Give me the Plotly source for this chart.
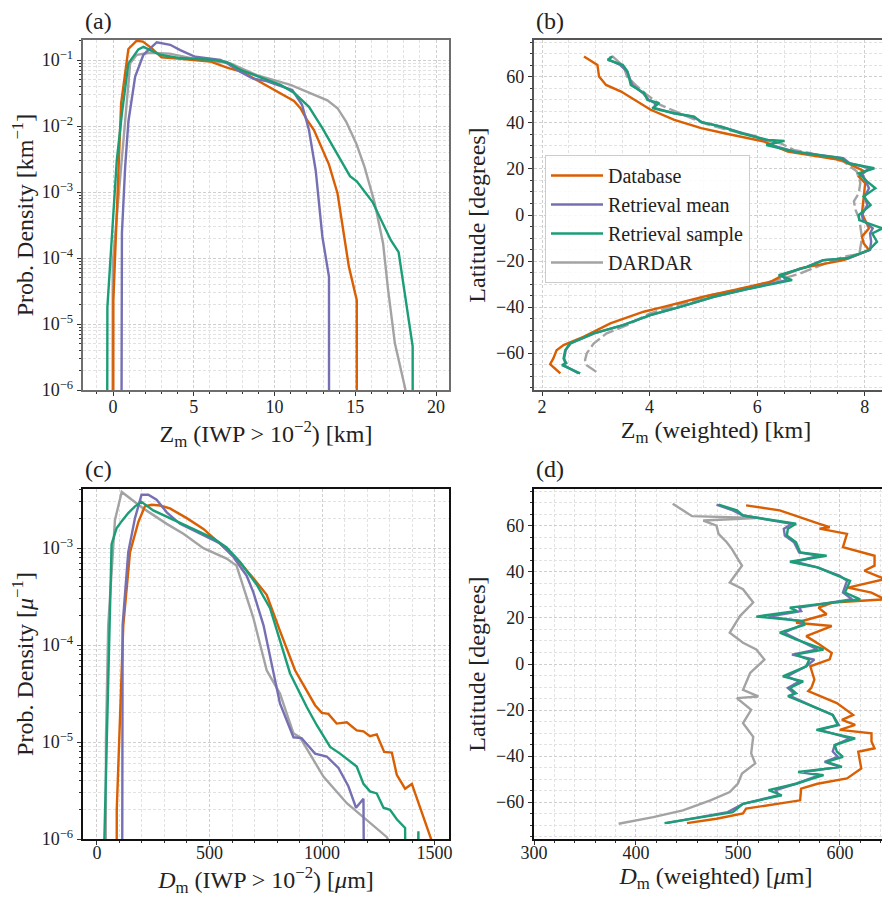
import plotly.graph_objects as go

# ---------------- data (a): PDF of Zm (IWP > 1e-2) ----------------
a_db_x = [0.0, 0.02, 0.5, 0.95, 1.45, 1.85, 2.4, 3.0, 4.0, 5.0, 6.0, 7.1, 8.0, 9.0, 10.0, 11.2, 11.6, 12.0, 12.44, 13.0, 13.37, 13.9, 14.3, 14.6, 15.09, 15.1]
a_db_y = [0, 2.3e-5, 0.022, 0.147, 0.195, 0.19, 0.15, 0.11, 0.105, 0.1, 0.095, 0.076, 0.066, 0.048, 0.035, 0.024, 0.0186, 0.0125, 0.0087, 0.0042, 0.0026, 9.5e-4, 2.2e-4, 7.4e-5, 2.3e-5, 0]

a_rm_x = [0.47, 0.5, 0.55, 0.75, 0.95, 1.37, 1.88, 2.71, 3.54, 4.16, 5.09, 6.65, 7.06, 7.89, 8.7, 9.5, 10.4, 11.1, 11.7, 12.13, 12.55, 12.96, 13.37, 13.38]
a_rm_y = [0, 1e-5, 2.4e-4, 2.4e-3, 0.0117, 0.056, 0.12, 0.186, 0.17, 0.141, 0.112, 0.1, 0.089, 0.066, 0.052, 0.048, 0.04, 0.035, 0.021, 0.0087, 0.0021, 2.1e-4, 5.2e-5, 0]

a_rs_x = [-0.4, -0.35, 0.23, 0.54, 0.95, 1.57, 1.88, 2.92, 4.16, 6.2, 7.06, 7.89, 9.55, 10.37, 11.2, 12.13, 12.96, 13.85, 14.2, 14.67, 15.09, 16.06, 17.2, 17.68, 18.55, 18.56]
a_rs_y = [0, 1.8e-5, 3.0e-3, 0.0148, 0.089, 0.145, 0.158, 0.12, 0.107, 0.1, 0.093, 0.071, 0.05, 0.042, 0.032, 0.0195, 0.0093, 0.0039, 0.0029, 0.00174, 0.00145, 7.1e-4, 1.86e-4, 1.23e-4, 4.6e-6, 0]

a_dd_x = [-0.05, -0.02, 1.06, 1.47, 2.3, 3.5, 5.0, 7.27, 8.9, 10.99, 12.02, 13.27, 13.9, 14.43, 15.05, 15.57, 16.2, 16.72, 17.03, 17.45, 18.07, 18.4]
a_dd_y = [0, 8.3e-5, 0.089, 0.12, 0.129, 0.125, 0.105, 0.089, 0.059, 0.042, 0.033, 0.0245, 0.0186, 0.0117, 0.0055, 0.0024, 6.8e-4, 1.66e-4, 3.3e-5, 5.1e-6, 1.1e-6, 4e-7]

# ---------------- data (b): Zm (weighted) vs latitude ----------------
b_db_lat = [68.8, 65.2, 60.1, 56.5, 53.6, 50.0, 45.7, 41.3, 37.7, 35.5, 31.9, 27.5, 23.9, 18.8, 16.7, 13.8, 6.5, 0.7, -5.8, -9.4, -12.3, -15.2, -19.6, -23.2, -26.8, -29.0, -32.6, -35.5, -39.9, -42.0, -47.1, -52.9, -56.5, -58.7, -62.3, -64.8, -68.8]
b_db_zm = [2.78, 3.03, 3.06, 3.19, 3.47, 3.71, 4.02, 4.46, 4.96, 5.39, 6.13, 6.57, 7.56, 8.01, 7.89, 8.01, 7.98, 7.95, 8.08, 7.95, 7.98, 8.08, 7.61, 6.80, 6.43, 6.25, 5.56, 5.00, 4.26, 3.89, 3.27, 2.77, 2.40, 2.27, 2.21, 2.15, 2.34]

b_rs_lat = [68.8, 67.4, 65.2, 62.3, 56.5, 52.9, 50.0, 48.6, 46.4, 44.2, 42.7, 40.3, 38.4, 35.5, 32.6, 32.2, 30.4, 27.5, 24.7, 22.5, 20.3, 18.1, 14.5, 11.6, 8.0, 4.3, 0.0, -2.2, -5.8, -8.0, -11.6, -15.2, -18.8, -19.6, -22.5, -26.1, -28.3, -31.9, -35.5, -39.9, -43.5, -47.8, -51.4, -55.8, -58.7, -62.3, -64.3, -65.2, -68.8]
b_rs_zm = [3.31, 3.22, 3.50, 3.59, 3.65, 3.90, 3.96, 4.18, 4.05, 4.46, 4.83, 4.96, 5.33, 5.70, 6.20, 6.51, 6.17, 6.69, 7.56, 7.69, 8.18, 7.89, 8.05, 8.20, 7.98, 8.11, 7.89, 7.90, 8.33, 8.14, 8.23, 8.08, 7.67, 7.24, 6.93, 6.40, 6.65, 5.87, 5.19, 4.57, 4.01, 3.51, 2.96, 2.52, 2.43, 2.40, 2.45, 2.37, 2.71]
b_rm_zm = [3.28, 3.25, 3.45, 3.58, 3.68, 3.88, 3.98, 4.10, 4.10, 4.45, 4.80, 4.98, 5.33, 5.72, 6.15, 6.35, 6.25, 6.70, 7.60, 7.72, 8.10, 7.95, 8.02, 8.08, 8.00, 8.05, 7.95, 7.97, 8.15, 8.10, 8.12, 8.10, 7.70, 7.22, 6.92, 6.45, 6.55, 5.90, 5.20, 4.57, 4.02, 3.50, 2.97, 2.53, 2.44, 2.41, 2.43, 2.40, 2.68]

b_dd_lat = [69.1, 64.5, 60.1, 55.8, 52.2, 47.8, 43.5, 39.9, 37.0, 34.1, 33.0, 31.0, 28.3, 26.8, 23.2, 19.0, 14.0, 9.4, 6.0, 2.2, -1.8, -10.0, -17.0, -18.1, -22.5, -25.4, -27.5, -31.2, -34.8, -39.1, -42.7, -47.8, -51.4, -55.8, -60.1, -63.0, -65.2, -68.8]
b_dd_zm = [3.30, 3.52, 3.58, 3.77, 3.95, 4.20, 4.63, 5.00, 5.44, 6.00, 6.05, 6.45, 6.68, 6.99, 7.61, 7.85, 7.92, 7.89, 7.80, 7.83, 7.90, 7.95, 7.90, 7.61, 7.11, 6.80, 6.49, 5.87, 5.13, 4.51, 4.01, 3.58, 3.20, 2.96, 2.83, 2.80, 2.83, 3.05]

# ---------------- data (c): PDF of Dm (IWP > 1e-2) ----------------
c_db_x = [85, 88, 117, 147, 184, 213, 243, 280, 324, 399, 473, 547, 620, 695, 754, 813, 880, 969, 999, 1028, 1065, 1110, 1154, 1184, 1213, 1243, 1276, 1310, 1332, 1369, 1399, 1483, 1520]
c_db_y = [0, 2e-6, 1.6e-4, 9.1e-4, 1.86e-3, 2.7e-3, 2.8e-3, 2.75e-3, 2.57e-3, 2.04e-3, 1.58e-3, 1.12e-3, 7.8e-4, 4.9e-4, 3.3e-4, 1.4e-4, 5.5e-5, 2.4e-5, 2.0e-5, 1.95e-5, 1.55e-5, 1.6e-5, 1.32e-5, 1.29e-5, 1.15e-5, 1.2e-5, 7.9e-6, 7.8e-6, 4.6e-6, 3.3e-6, 3.7e-6, 1.02e-6, 6e-7]

c_rm_x = [108, 112, 114, 139, 169, 198, 228, 265, 310, 369, 458, 547, 606, 665, 695, 740, 813, 873, 909, 969, 1021, 1073, 1117, 1151, 1184, 1200]
c_rm_y = [0, 3e-6, 1.6e-4, 9.1e-4, 2.04e-3, 3.55e-3, 3.55e-3, 3.16e-3, 2.34e-3, 1.78e-3, 1.41e-3, 1.12e-3, 8.1e-4, 5.2e-4, 3.5e-4, 1.6e-4, 2.5e-5, 1.12e-5, 1.1e-5, 7.6e-6, 7.1e-6, 5.4e-6, 3.5e-6, 2.1e-6, 2.6e-6, 0]

c_rs_x = [30, 33, 65, 87, 110, 139, 169, 198, 250, 324, 413, 517, 576, 636, 710, 769, 858, 932, 976, 1036, 1080, 1117, 1154, 1184, 1213, 1243, 1273, 1302, 1332, 1369, 1385, 1428, 1445]
c_rs_y = [0, 1e-6, 1.1e-3, 1.6e-3, 1.9e-3, 2.3e-3, 2.7e-3, 3.0e-3, 2.45e-3, 2.04e-3, 1.66e-3, 1.26e-3, 1.02e-3, 7.2e-4, 4.2e-4, 2.4e-4, 5.1e-5, 2.3e-5, 1.5e-5, 8.9e-6, 7.6e-6, 6.5e-6, 5.6e-6, 3.7e-6, 3.1e-6, 2.95e-6, 2.1e-6, 2.0e-6, 1.6e-6, 1.3e-6, 0, 1.2e-6, 0]

c_dd_x = [36, 40, 50, 80, 110, 206, 310, 384, 473, 576, 620, 636, 695, 754, 813, 873, 902, 1006, 1110, 1287, 1350]
c_dd_y = [0, 1.1e-5, 1.6e-4, 1.95e-3, 3.8e-3, 2.57e-3, 1.78e-3, 1.41e-3, 1.0e-3, 7.8e-4, 6.6e-4, 5.0e-4, 1.9e-4, 5.5e-5, 3.16e-5, 1.23e-5, 1.12e-5, 4.4e-6, 2.34e-6, 1.05e-6, 6e-7]

# ---------------- data (d): Dm (weighted) vs latitude ----------------
d_dd_dm = [436, 446, 455, 518, 466, 479, 481, 489, 494, 499, 504, 492, 505, 515, 502, 492, 505, 518, 526, 512, 505, 520, 499, 513, 505, 515, 513, 517, 504, 500, 492, 473, 446, 417, 383]
d_dd_lat = [69.6, 66.7, 64.2, 63.4, 62.3, 60.1, 56.5, 52.9, 50.0, 46.3, 42.7, 35.4, 32.5, 26.7, 20.8, 13.6, 9.2, 6.3, 1.9, -3.9, -11.2, -14.1, -14.8, -19.9, -25.7, -31.6, -38.8, -43.2, -47.6, -51.9, -55.6, -59.2, -63.6, -66.5, -69.4]

d_db_dm = [508, 541, 580, 590, 580, 607, 603, 634, 634, 624, 644, 608, 631, 644, 593, 579, 587, 557, 592, 567, 580, 592, 590, 571, 573, 575, 572, 569, 597, 613, 602, 615, 600, 631, 631, 634, 618, 621, 607, 578, 562, 561, 508, 505, 479, 450]
d_db_lat = [68.9, 66.7, 60.9, 59.4, 58.8, 56.5, 50.7, 47.0, 42.7, 40.5, 36.9, 33.2, 31.0, 28.1, 26.7, 24.5, 21.6, 17.9, 16.5, 12.1, 8.5, 4.8, 2.0, -1.0, -3.9, -6.8, -10.4, -11.8, -17.0, -22.1, -24.3, -26.4, -28.6, -30.1, -33.7, -36.6, -38.1, -45.4, -49.7, -52.0, -54.1, -59.2, -62.8, -64.9, -67.2, -69.1]

d_rs_lat = [69.2, 66.7, 64.5, 60.9, 58.7, 55.8, 52.9, 48.5, 47.0, 44.4, 42.0, 38.3, 36.1, 31.0, 28.1, 24.5, 23.0, 20.6, 18.6, 17.0, 13.6, 10.7, 6.3, 4.1, 1.9, -1.0, -5.4, -7.6, -10.4, -12.7, -14.0, -18.5, -22.1, -26.5, -28.6, -32.3, -35.2, -38.0, -40.3, -42.5, -44.7, -46.9, -48.3, -52.0, -54.8, -57.0, -60.7, -64.3, -69.1]
d_rs_dm = [481, 499, 505, 557, 549, 548, 557, 561, 587, 551, 578, 598, 610, 605, 620, 551, 558, 518, 564, 565, 541, 557, 584, 556, 570, 567, 544, 564, 551, 557, 549, 574, 593, 598, 577, 615, 595, 597, 603, 587, 602, 559, 584, 557, 530, 543, 505, 495, 428]
d_rm_dm = [479, 495, 505, 553, 545, 546, 555, 560, 580, 556, 578, 600, 607, 603, 612, 560, 562, 530, 562, 563, 545, 558, 578, 553, 575, 567, 548, 560, 549, 555, 552, 574, 593, 599, 580, 610, 595, 593, 598, 585, 600, 565, 580, 557, 537, 540, 505, 490, 430]

a_yticks = [1e-6, 1e-5, 1e-4, 1e-3, 1e-2, 1e-1]
a_yticktext = ["10<sup>−6</sup>", "10<sup>−5</sup>", "10<sup>−4</sup>", "10<sup>−3</sup>", "10<sup>−2</sup>", "10<sup>−1</sup>"]
c_yticks = [1e-6, 1e-5, 1e-4, 1e-3]
c_yticktext = ["10<sup>−6</sup>", "10<sup>−5</sup>", "10<sup>−4</sup>", "10<sup>−3</sup>"]

names = ["Database", "Retrieval mean", "Retrieval sample", "DARDAR"]

# ---------------- styling ----------------
C_DB, C_RM, C_RS, C_DD = "#d95f02", "#7570b3", "#1b9e77", "#a3a3a3"
LW = 2.4
FONT = "Liberation Serif"
W, H = 890, 898
OFF = 8  # page body margin offset (px)


def fx(p):
    return (p - OFF) / W


def fy(p):
    return 1 - (p - OFF) / H


def pos(vals):
    return [v if v > 0 else 1e-12 for v in vals]


fig = go.Figure()


def add(x, y, color, xa, ya, dash="solid"):
    fig.add_trace(go.Scatter(x=x, y=y, mode="lines", line=dict(color=color, width=LW, dash=dash),
                             xaxis=xa, yaxis=ya, showlegend=False, hoverinfo="skip"))


# (a)
add(a_dd_x, pos(a_dd_y), C_DD, "x", "y")
add(a_db_x, pos(a_db_y), C_DB, "x", "y")
add(a_rm_x, pos(a_rm_y), C_RM, "x", "y")
add(a_rs_x, pos(a_rs_y), C_RS, "x", "y")
# (b)
add(b_dd_zm, b_dd_lat, C_DD, "x2", "y2", dash="12px,4px")
add(b_db_zm, b_db_lat, C_DB, "x2", "y2")
add(b_rm_zm, b_rs_lat, C_RM, "x2", "y2")
add(b_rs_zm, b_rs_lat, C_RS, "x2", "y2")
# (c)
add(c_dd_x, pos(c_dd_y), C_DD, "x3", "y3")
add(c_db_x, pos(c_db_y), C_DB, "x3", "y3")
add(c_rm_x, pos(c_rm_y), C_RM, "x3", "y3")
add(c_rs_x, pos(c_rs_y), C_RS, "x3", "y3")
# (d)
add(d_dd_dm, d_dd_lat, C_DD, "x4", "y4")
add(d_db_dm, d_db_lat, C_DB, "x4", "y4")
add(d_rm_dm, d_rs_lat, C_RM, "x4", "y4")
add(d_rs_dm, d_rs_lat, C_RS, "x4", "y4")

# legend entries (solid lines)
for n, c in zip(names, [C_DB, C_RM, C_RS, C_DD]):
    fig.add_trace(go.Scatter(x=[None], y=[None], mode="lines", name=n, line=dict(color=c, width=LW),
                             xaxis="x2", yaxis="y2", showlegend=True))

GRID = "#cfcfcf"
MGRID = "#e2e2e2"
GDASH = "3px,2px"
TICKF = dict(family=FONT, size=18, color="#222")
TITLEF = dict(family=FONT, size=24, color="#222")


def lin_axis(domain, anchor, rng, dtick, mdtick, title, line_color="#555", mirror=True, standoff=0, lso=-5):
    return dict(domain=domain, anchor=anchor, range=rng, dtick=dtick, tick0=0, automargin=False,
                showgrid=True, gridcolor=GRID, griddash=GDASH, gridwidth=1,
                minor=dict(dtick=mdtick, tick0=0, showgrid=True, gridcolor=MGRID, griddash=GDASH,
                           gridwidth=0.8, ticks="outside", ticklen=2.5, tickcolor="#333"),
                ticks="outside", ticklen=4.5, tickcolor="#333", tickfont=TICKF, ticklabelstandoff=lso,
                showline=True, linecolor=line_color, linewidth=1.5, mirror=mirror,
                zeroline=False, title=dict(text=title, font=TITLEF, standoff=standoff))


def log_axis(domain, anchor, rng, tv, tt, title, line_color="#555", standoff=4):
    lo, hi = int(rng[0]) - 1, int(rng[1]) + 1
    mv = [k * 10.0 ** e for e in range(lo, hi + 1) for k in range(2, 10)]
    return dict(domain=domain, anchor=anchor, type="log", range=rng, tickmode="array", automargin=False,
                tickvals=tv, ticktext=tt, showgrid=True, gridcolor=GRID, griddash=GDASH, gridwidth=1,
                minor=dict(tickmode="array", tickvals=mv, showgrid=True, gridcolor=MGRID, griddash=GDASH,
                           gridwidth=0.8, ticks="outside", ticklen=2.5, tickcolor="#333"),
                ticks="outside", ticklen=4.5, tickcolor="#333", tickfont=TICKF,
                showline=True, linecolor=line_color, linewidth=1.5, mirror=True,
                zeroline=False, title=dict(text=title, font=TITLEF, standoff=standoff))


xL = [fx(83), fx(449)]
xR = [fx(534), min(1.0, fx(898))]
yT = [fy(390), fy(40)]
yB = [fy(839), fy(489)]

fig.update_layout(
    width=W, height=H, margin=dict(l=0, r=0, t=0, b=0, autoexpand=False),
    paper_bgcolor="white", plot_bgcolor="white",
    font=dict(family=FONT, color="#222"),
    xaxis=lin_axis(xL, "y", [-1.86, 20.8], 5, 1, "Z<sub>m</sub> (IWP > 10<sup>−2</sup>) [km]", line_color="#6e6e6e"),
    yaxis=log_axis(yT, "x", [-6, -0.697], a_yticks, a_yticktext, "Prob. Density [km<sup>−1</sup>]", line_color="#6e6e6e"),
    xaxis2=lin_axis(xR, "y2", [1.85, 8.62], 2, 0.5, "Z<sub>m</sub> (weighted) [km]"),
    yaxis2=lin_axis(yT, "x2", [-76, 76], 20, 5, "Latitude [degrees]", mirror=False, standoff=4, lso=0),
    xaxis3=lin_axis(xL, "y3", [-62, 1564], 500, 100, "<i>D</i><sub>m</sub> (IWP > 10<sup>−2</sup>) [<i>μ</i>m]", line_color="#111", lso=-8),
    yaxis3=log_axis(yB, "x3", [-6, -2.39], c_yticks, c_yticktext, "Prob. Density [<i>μ</i><sup>−1</sup>]", line_color="#111"),
    xaxis4=lin_axis(xR, "y4", [300, 657], 100, 20, "<i>D</i><sub>m</sub> (weighted) [<i>μ</i>m]", line_color="#111", lso=-8),
    yaxis4=lin_axis(yB, "x4", [-76, 76], 20, 5, "Latitude [degrees]", line_color="#111", mirror=False, standoff=4, lso=0),
    legend=dict(x=fx(545), y=fy(155), xanchor="left", yanchor="top",
                bgcolor="rgba(255,255,255,0.85)", bordercolor="#cccccc", borderwidth=1,
                font=dict(family=FONT, size=20, color="#222"), tracegroupgap=0, itemwidth=52),
    showlegend=True,
)

for lab, x, y in [("(a)", 83, 21), ("(b)", 534, 21), ("(c)", 83, 469), ("(d)", 534, 469)]:
    fig.add_annotation(text=lab, x=fx(x), y=fy(y), xref="paper", yref="paper",
                       xanchor="left", yanchor="middle", showarrow=False,
                       font=dict(family=FONT, size=24, color="#222"))

fig.write_html("out.html")
